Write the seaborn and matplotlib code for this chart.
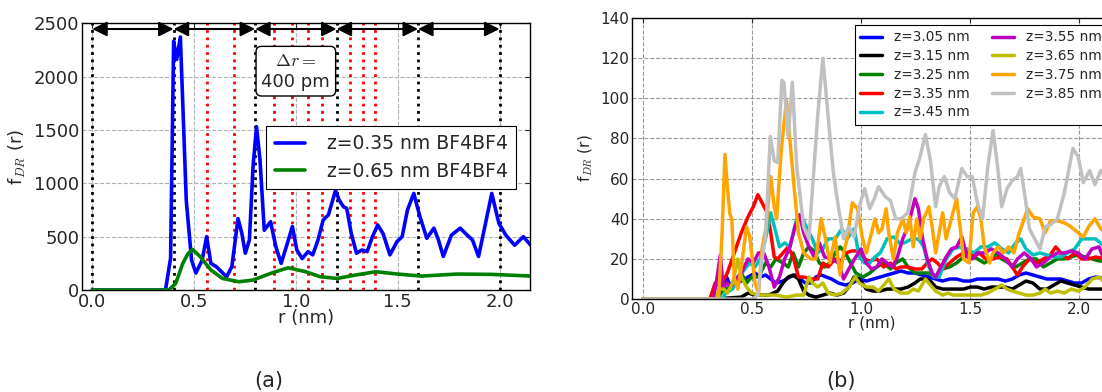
import numpy as np
import pandas as pd
import seaborn as sns
import matplotlib
matplotlib.use("Agg")
import matplotlib.pyplot as plt

sns.set_style("white")
plt.rcParams['font.family'] = ['DejaVu Sans']
plt.rcParams['mathtext.fontset'] = 'cm'

# ---------------- panel (a) ----------------
r_a035 = [0.0, 0.36, 0.385, 0.40, 0.415, 0.433, 0.462, 0.488, 0.509, 0.54, 0.562, 0.583, 0.609, 0.66,
          0.686, 0.716, 0.735, 0.752, 0.772, 0.79, 0.807, 0.824, 0.845, 0.876, 0.902, 0.928, 0.953, 0.983,
          1.005, 1.031, 1.06, 1.083, 1.109, 1.134, 1.16, 1.195, 1.212, 1.234, 1.25, 1.272, 1.298, 1.324,
          1.35, 1.376, 1.402, 1.428, 1.462, 1.497, 1.522, 1.548, 1.579, 1.609, 1.643, 1.678, 1.70, 1.724,
          1.764, 1.807, 1.841, 1.867, 1.897, 1.928, 1.962, 1.997, 2.031, 2.074, 2.117, 2.16]
f_a035 = [0, 0, 300, 2330, 2160, 2370, 840, 280, 160, 280, 500, 250, 220, 125,
          220, 670, 530, 345, 470, 1160, 1530, 1220, 560, 640, 405, 250, 405, 595,
          375, 295, 360, 330, 470, 655, 705, 935, 845, 780, 765, 530, 345, 375,
          360, 500, 610, 530, 330, 455, 500, 750, 905, 690, 485, 580, 470, 315,
          515, 580, 515, 470, 315, 595, 905, 625, 515, 420, 500, 405]
r_a065 = [0.0, 0.376, 0.41, 0.445, 0.47, 0.493, 0.531, 0.583, 0.64, 0.72, 0.79, 0.876, 0.962, 1.048,
          1.12, 1.203, 1.29, 1.393, 1.50, 1.617, 1.79, 1.96, 2.16]
f_a065 = [0, 0, 62, 250, 340, 380, 312, 188, 109, 78, 94, 156, 209, 172,
          125, 109, 140, 172, 150, 131, 150, 147, 131]
labels_a = ["z=0.35 nm BF4BF4", "z=0.65 nm BF4BF4"]
colors_a = ["b", "g"]
black_lines = [0.0, 0.4, 0.8, 1.2, 1.6, 2.0]
red_lines = [0.566, 0.694, 0.894, 0.98, 1.06, 1.13, 1.266, 1.328, 1.387]

# ---------------- panel (b) ----------------
r_305 = [0.0, 0.339, 0.363, 0.384, 0.403, 0.427, 0.451, 0.482, 0.514, 0.538,
         0.562, 0.586, 0.610, 0.642, 0.674, 0.697, 0.721, 0.745, 0.769, 0.793,
         0.817, 0.841, 0.865, 0.896, 0.928, 0.960, 0.992, 1.024, 1.056, 1.088,
         1.119, 1.151, 1.183, 1.215, 1.247, 1.279, 1.311, 1.342, 1.374, 1.406,
         1.438, 1.470, 1.502, 1.533, 1.565, 1.597, 1.629, 1.661, 1.693, 1.725,
         1.756, 1.788, 1.820, 1.852, 1.884, 1.916, 1.947, 1.979, 2.011, 2.043,
         2.075, 2.119, 2.15]
f_305 = [0, 0, 6, 11, 6, 8, 9, 11, 13, 11,
         12, 10, 8, 9, 11, 12, 10, 8, 8, 11,
         12, 11, 10, 8, 7, 8, 10, 9, 10, 11,
         12, 13, 14, 13, 13, 12, 11, 10, 9, 10,
         10, 9, 9, 10, 10, 10, 10, 9, 10, 12,
         13, 12, 11, 10, 10, 10, 9, 8, 8, 10,
         11, 10, 10]
r_315 = [0.0, 0.323, 0.387, 0.451, 0.482, 0.514, 0.546, 0.578, 0.618, 0.642,
         0.666, 0.689, 0.713, 0.737, 0.761, 0.793, 0.825, 0.857, 0.889, 0.920,
         0.944, 0.968, 0.992, 1.024, 1.056, 1.088, 1.119, 1.151, 1.183, 1.215,
         1.247, 1.271, 1.295, 1.318, 1.342, 1.374, 1.406, 1.438, 1.470, 1.502,
         1.533, 1.565, 1.597, 1.629, 1.661, 1.693, 1.725, 1.756, 1.788, 1.820,
         1.852, 1.884, 1.916, 1.947, 1.979, 2.011, 2.043, 2.075, 2.119, 2.15]
f_315 = [0, 0, 0.5, 1, 3, 2, 2, 2, 4, 8,
         11, 12, 10, 4, 2, 1, 2, 3, 2, 3,
         6, 11, 10, 5, 4, 4, 5, 5, 5, 6,
         8, 10, 10, 9, 6, 5, 5, 5, 5, 6,
         6, 5, 6, 6, 6, 5, 7, 9, 8, 5,
         5, 7, 9, 8, 7, 6, 5, 5, 5, 5]
r_325 = [0.0, 0.339, 0.371, 0.403, 0.427, 0.451, 0.475, 0.498, 0.530, 0.562,
         0.586, 0.610, 0.642, 0.666, 0.689, 0.713, 0.737, 0.761, 0.785, 0.809,
         0.833, 0.857, 0.881, 0.904, 0.928, 0.952, 0.976, 1.008, 1.040, 1.072,
         1.104, 1.135, 1.159, 1.191, 1.215, 1.247, 1.279, 1.311, 1.342, 1.374,
         1.406, 1.438, 1.470, 1.502, 1.533, 1.565, 1.597, 1.621, 1.645, 1.677,
         1.709, 1.740, 1.772, 1.804, 1.836, 1.868, 1.900, 1.932, 1.963, 1.995,
         2.027, 2.059, 2.091, 2.119, 2.15]
f_325 = [0, 0, 5, 6, 10, 13, 8, 11, 11, 18,
         16, 20, 18, 16, 23, 16, 23, 26, 24, 18,
         16, 18, 23, 26, 23, 18, 13, 11, 13, 16,
         18, 15, 18, 20, 16, 13, 13, 13, 11, 15,
         16, 18, 21, 22, 20, 18, 20, 23, 20, 18,
         16, 18, 20, 20, 16, 18, 20, 20, 21, 22,
         21, 20, 19, 19, 19]
r_335 = [0.0, 0.307, 0.331, 0.355, 0.387, 0.419, 0.451, 0.482, 0.506, 0.527,
         0.546, 0.570, 0.586, 0.602, 0.618, 0.642, 0.666, 0.689, 0.713, 0.737,
         0.769, 0.801, 0.825, 0.849, 0.881, 0.904, 0.928, 0.960, 0.992, 1.016,
         1.040, 1.072, 1.104, 1.135, 1.159, 1.183, 1.215, 1.247, 1.279, 1.303,
         1.326, 1.350, 1.374, 1.406, 1.438, 1.470, 1.494, 1.518, 1.541, 1.573,
         1.605, 1.637, 1.669, 1.693, 1.717, 1.740, 1.772, 1.804, 1.836, 1.868,
         1.892, 1.916, 1.947, 1.979, 2.011, 2.043, 2.075, 2.119, 2.15]
f_335 = [0, 0, 8, 6, 13, 23, 33, 41, 46, 52,
         48, 43, 33, 21, 20, 23, 26, 21, 11, 11,
         10, 10, 18, 16, 20, 18, 23, 24, 24, 20,
         19, 20, 16, 18, 15, 16, 16, 15, 15, 18,
         20, 18, 15, 18, 21, 23, 24, 21, 23, 20,
         20, 21, 20, 16, 12, 16, 20, 18, 20, 22,
         26, 23, 20, 23, 20, 20, 21, 20, 20]
r_345 = [0.0, 0.363, 0.379, 0.411, 0.435, 0.467, 0.490, 0.514, 0.538, 0.562,
         0.586, 0.610, 0.626, 0.650, 0.674, 0.705, 0.729, 0.753, 0.777, 0.801,
         0.825, 0.849, 0.881, 0.912, 0.936, 0.968, 0.992, 1.016, 1.040, 1.064,
         1.088, 1.119, 1.151, 1.175, 1.199, 1.231, 1.263, 1.287, 1.311, 1.334,
         1.358, 1.390, 1.422, 1.454, 1.486, 1.518, 1.549, 1.581, 1.613, 1.645,
         1.677, 1.709, 1.732, 1.756, 1.788, 1.820, 1.852, 1.884, 1.916, 1.947,
         1.979, 2.011, 2.043, 2.075, 2.119, 2.15]
f_345 = [0, 0, 3, 5, 10, 15, 18, 16, 20, 30,
         43, 33, 26, 28, 26, 40, 41, 35, 30, 23,
         25, 30, 30, 35, 30, 35, 21, 18, 18, 21,
         23, 30, 31, 28, 28, 30, 30, 26, 16, 11,
         11, 20, 25, 26, 25, 23, 26, 26, 28, 25,
         23, 28, 30, 25, 22, 23, 22, 21, 21, 23,
         25, 30, 30, 30, 26, 26]
r_355 = [0.0, 0.323, 0.339, 0.355, 0.368, 0.387, 0.403, 0.427, 0.451, 0.482,
         0.506, 0.530, 0.554, 0.578, 0.602, 0.626, 0.650, 0.674, 0.697, 0.718,
         0.737, 0.761, 0.785, 0.809, 0.833, 0.865, 0.896, 0.920, 0.944, 0.976,
         1.0, 1.024, 1.048, 1.072, 1.096, 1.119, 1.143, 1.167, 1.191, 1.215,
         1.231, 1.247, 1.263, 1.282, 1.303, 1.326, 1.342, 1.366, 1.390, 1.414,
         1.438, 1.462, 1.486, 1.510, 1.533, 1.565, 1.597, 1.629, 1.661, 1.693,
         1.717, 1.748, 1.780, 1.804, 1.836, 1.868, 1.900, 1.932, 1.963, 1.995,
         2.027, 2.059, 2.091, 2.119, 2.15]
f_355 = [0, 0, 10, 22, 6, 8, 6, 10, 13, 20,
         18, 23, 23, 16, 6, 11, 20, 26, 36, 42,
         33, 26, 21, 28, 21, 20, 18, 10, 15, 21,
         25, 18, 15, 16, 20, 18, 16, 21, 30, 36,
         43, 50, 45, 30, 20, 13, 11, 16, 21, 25,
         26, 31, 21, 20, 23, 23, 25, 23, 20, 16,
         20, 23, 20, 16, 18, 21, 23, 23, 24, 23,
         20, 25, 26, 18, 18]
r_365 = [0.0, 0.339, 0.347, 0.371, 0.387, 0.411, 0.435, 0.451, 0.475, 0.498,
         0.530, 0.562, 0.610, 0.658, 0.705, 0.737, 0.761, 0.777, 0.801, 0.825,
         0.849, 0.881, 0.912, 0.944, 0.973, 0.992, 1.024, 1.056, 1.080, 1.104,
         1.127, 1.151, 1.183, 1.215, 1.239, 1.263, 1.295, 1.318, 1.342, 1.374,
         1.398, 1.422, 1.454, 1.486, 1.518, 1.549, 1.581, 1.613, 1.645, 1.669,
         1.693, 1.725, 1.756, 1.788, 1.820, 1.844, 1.868, 1.900, 1.932, 1.963,
         1.995, 2.027, 2.059, 2.091, 2.119, 2.15]
f_365 = [0, 0, 5, 5, 3, 8, 20, 11, 6, 3,
         2, 2, 2, 1, 2, 2, 11, 8, 6, 8,
         3, 2, 3, 6, 11, 8, 6, 6, 4, 7,
         10, 5, 3, 3, 5, 4, 10, 7, 4, 2,
         3, 2, 2, 2, 2, 2, 3, 5, 7, 5,
         4, 3, 2, 2, 3, 5, 3, 4, 3, 5,
         4, 6, 10, 11, 8, 8]
r_375 = [0.0, 0.347, 0.363, 0.376, 0.387, 0.398, 0.408, 0.419, 0.435, 0.451,
         0.475, 0.490, 0.514, 0.530, 0.546, 0.565, 0.586, 0.602, 0.613, 0.634,
         0.658, 0.674, 0.693, 0.713, 0.737, 0.769, 0.793, 0.817, 0.841, 0.857,
         0.881, 0.904, 0.920, 0.936, 0.960, 0.984, 1.005, 1.024, 1.048, 1.064,
         1.080, 1.096, 1.115, 1.127, 1.148, 1.167, 1.191, 1.207, 1.223, 1.239,
         1.255, 1.271, 1.287, 1.311, 1.326, 1.342, 1.358, 1.374, 1.390, 1.414,
         1.438, 1.454, 1.470, 1.494, 1.514, 1.533, 1.549, 1.565, 1.589, 1.605,
         1.629, 1.653, 1.677, 1.701, 1.725, 1.764, 1.788, 1.820, 1.844, 1.868,
         1.900, 1.932, 1.963, 1.995, 2.019, 2.043, 2.072, 2.099, 2.119, 2.15]
f_375 = [0, 0, 33, 72, 56, 43, 39, 10, 5, 16,
         36, 31, 8, 3, 25, 36, 61, 46, 40, 74,
         99, 79, 56, 33, 23, 20, 20, 40, 28, 18,
         31, 12, 23, 30, 48, 45, 31, 23, 33, 40,
         33, 35, 45, 33, 20, 33, 40, 33, 41, 26,
         40, 30, 40, 46, 36, 23, 33, 43, 30, 40,
         50, 36, 20, 18, 43, 46, 40, 26, 18, 23,
         26, 23, 26, 23, 33, 45, 41, 40, 33, 39,
         39, 38, 36, 33, 31, 36, 40, 35, 33, 33]
r_385 = [0.0, 0.506, 0.527, 0.546, 0.562, 0.584, 0.602, 0.618, 0.637, 0.646,
         0.666, 0.685, 0.705, 0.737, 0.761, 0.801, 0.825, 0.849, 0.873, 0.896,
         0.920, 0.944, 0.968, 0.992, 1.016, 1.040, 1.064, 1.080, 1.111, 1.135,
         1.159, 1.183, 1.215, 1.247, 1.271, 1.295, 1.318, 1.342, 1.358, 1.382,
         1.406, 1.430, 1.462, 1.486, 1.510, 1.533, 1.557, 1.581, 1.605, 1.626,
         1.645, 1.669, 1.693, 1.717, 1.732, 1.753, 1.772, 1.796, 1.820, 1.844,
         1.868, 1.900, 1.932, 1.971, 1.995, 2.019, 2.048, 2.072, 2.099, 2.119,
         2.15]
f_385 = [0, 0, 2, 20, 31, 81, 69, 68, 109, 108,
         81, 108, 66, 36, 30, 91, 120, 91, 63, 46,
         30, 36, 31, 46, 55, 45, 51, 56, 51, 49,
         40, 40, 43, 63, 71, 82, 69, 46, 56, 61,
         53, 50, 65, 61, 61, 48, 40, 66, 84, 66,
         46, 55, 59, 61, 65, 50, 35, 30, 25, 36,
         37, 40, 53, 75, 71, 58, 64, 57, 64, 61,
         61]

z_labels = ["z=3.05 nm", "z=3.15 nm", "z=3.25 nm", "z=3.35 nm", "z=3.45 nm",
            "z=3.55 nm", "z=3.65 nm", "z=3.75 nm", "z=3.85 nm"]
colors_b = ["b", "k", "g", "r", "c", "m", "y", "orange", "silver"]
r_b = [r_305, r_315, r_325, r_335, r_345, r_355, r_365, r_375, r_385]
f_b = [f_305, f_315, f_325, f_335, f_345, f_355, f_365, f_375, f_385]

df_a = pd.concat([pd.DataFrame({"r": r, "f": f, "z": lab})
                  for r, f, lab in zip([r_a035, r_a065], [f_a035, f_a065], labels_a)])
df_b = pd.concat([pd.DataFrame({"r": r, "f": f, "z": lab})
                  for r, f, lab in zip(r_b, f_b, z_labels)])

fig = plt.figure(figsize=(11.02, 3.92), dpi=100)
ax1 = fig.add_axes([0.0744, 0.260, 0.4066, 0.681])
ax2 = fig.add_axes([0.5735, 0.237, 0.4355, 0.717])

# panel (a)
for x in black_lines:
    ax1.axvline(x, color="k", ls=":", lw=2, zorder=1)
for x in red_lines:
    ax1.axvline(x, color="r", ls=":", lw=2, zorder=1)
sns.lineplot(data=df_a, x="r", y="f", hue="z", palette=colors_a, sort=False,
             estimator=None, lw=2.6, ax=ax1, legend=False, zorder=3)
for x0, x1 in zip(black_lines[:-1], black_lines[1:]):
    ax1.annotate("", xy=(x1, 2445), xytext=(x0, 2445),
                 arrowprops=dict(arrowstyle="<|-|>", color="k", lw=1.5,
                                 mutation_scale=22, shrinkA=0, shrinkB=0))
ax1.text(1.0, 2050, "$\\Delta r =$\n400 pm", ha="center", va="center", fontsize=13,
         bbox=dict(boxstyle="round,pad=0.3", fc="white", ec="k"), zorder=5)
ax1.set_xlim(-0.05, 2.15)
ax1.set_ylim(0, 2500)
ax1.set_xticks([0.0, 0.5, 1.0, 1.5, 2.0])
ax1.set_yticks([0, 500, 1000, 1500, 2000, 2500])
ax1.tick_params(labelsize=13, direction="in", top=True, right=True, pad=2)
ax1.grid(True, ls="--", color="0.7", lw=0.8)
ax1.set_xlabel("r (nm)", fontsize=13, labelpad=-1)
ax1.set_ylabel("f$_{DR}$ (r)", fontsize=13, labelpad=4)
leg1 = ax1.legend(ax1.get_lines()[len(black_lines) + len(red_lines):], labels_a,
                  loc="upper left", bbox_to_anchor=(0.39, 0.65), fontsize=13.5,
                  handlelength=1.6, handletextpad=1.2, fancybox=False, edgecolor="k",
                  framealpha=1, borderpad=0.45, labelspacing=0.45)
leg1.get_frame().set_linewidth(0.8)

# panel (b)
sns.lineplot(data=df_b, x="r", y="f", hue="z", palette=colors_b, sort=False,
             estimator=None, lw=2.5, ax=ax2, legend=False)
ax2.set_xlim(-0.05, 2.15)
ax2.set_ylim(0, 140)
ax2.set_xticks([0.0, 0.5, 1.0, 1.5, 2.0])
ax2.set_yticks(np.arange(0, 141, 20))
ax2.tick_params(labelsize=11, direction="in", top=True, right=True, pad=2)
ax2.grid(True, ls="--", color="0.6", lw=0.8)
ax2.set_xlabel("r (nm)", fontsize=11, labelpad=-1)
ax2.set_ylabel("f$_{DR}$ (r)", fontsize=11, labelpad=4)
leg2 = ax2.legend(ax2.get_lines(), z_labels, loc="upper left", bbox_to_anchor=(0.45, 1.0),
                  ncol=2, fontsize=9.8, handlelength=1.6, handletextpad=0.9,
                  columnspacing=1.6, labelspacing=0.35, fancybox=False, edgecolor="k",
                  framealpha=1, borderpad=0.4)
leg2.get_frame().set_linewidth(0.8)

for ax in (ax1, ax2):
    for s in ax.spines.values():
        s.set_color("k")
        s.set_linewidth(1)

fig.text(0.244, 0.028, "(a)", fontsize=15, ha="center", va="center")
fig.text(0.763, 0.028, "(b)", fontsize=15, ha="center", va="center")

fig.savefig("out.png", dpi=100)
